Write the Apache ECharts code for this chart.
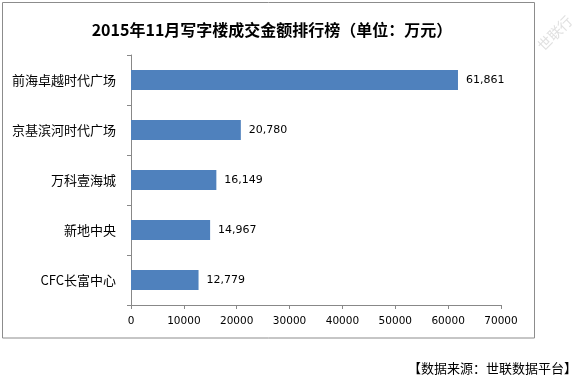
<!DOCTYPE html>
<html><head><meta charset="utf-8">
<script src="https://cdn.jsdelivr.net/npm/echarts@6/dist/echarts.min.js"></script>
<style>html,body{margin:0;padding:0;background:#fff}#c{width:578px;height:378px}</style>
</head><body><div id="c"></div>
<script>
const titleText = '2015年11月写字楼成交金额排行榜（单位：万元）';
const categories = ['前海卓越时代广场', '京基滨河时代广场', '万科壹海城', '新地中央', 'CFC长富中心'];
const values = [61861, 20780, 16149, 14967, 12779];
const xTicks = [0, 10000, 20000, 30000, 40000, 50000, 60000, 70000];
const sourceText = '【数据来源：世联数据平台】';

const chart = echarts.init(document.getElementById('c'), null, {renderer: 'canvas'});
chart.setOption({
  animation: false,
  backgroundColor: '#fff',
  title: {
    text: titleText, left: 267, top: 17, textAlign: 'center',
    textStyle: {fontFamily: 'Noto Sans CJK SC', fontSize: 16, fontWeight: 'bold', color: '#000'}
  },
  grid: {left: 131, right: 77, top: 55, bottom: 73, containLabel: false},
  xAxis: {
    type: 'value', min: xTicks[0], max: xTicks[xTicks.length - 1], interval: 10000,
    axisLine: {show: true, lineStyle: {color: '#888', width: 1}},
    axisTick: {show: true, length: 4, lineStyle: {color: '#888'}},
    splitLine: {show: false},
    axisLabel: {margin: 11, fontFamily: 'DejaVu Sans', fontSize: 10.5, color: '#000', formatter: v => String(v)}
  },
  yAxis: {
    type: 'category', data: categories, inverse: true,
    axisLine: {show: true, lineStyle: {color: '#888', width: 1}},
    axisTick: {show: true, length: 4, lineStyle: {color: '#888'}},
    axisLabel: {margin: 15, fontFamily: 'Noto Sans CJK SC', fontSize: 13, color: '#000'}
  },
  series: [{
    type: 'bar', data: values, barCategoryGap: '60%',
    itemStyle: {color: '#4F81BD'},
    label: {
      show: true, position: 'right', distance: 8,
      fontFamily: 'DejaVu Sans', fontSize: 11, color: '#000',
      formatter: p => p.value.toLocaleString('en-US')
    }
  }],
  graphic: [
    {type: 'rect', shape: {x: 2.5, y: 2.5, width: 532, height: 335.5}, style: {fill: 'none', stroke: '#8c8c8c', lineWidth: 1}, z: -1},
    {type: 'text', x: 577, y: 368, style: {text: sourceText, font: '13px "Noto Sans CJK SC"', fill: '#000', align: 'right', verticalAlign: 'middle'}},
    {type: 'text', x: 540, y: 48, rotation: Math.PI / 4, style: {text: '世联行', font: '14px "Noto Sans CJK SC"', fill: '#e0e0e0', verticalAlign: 'middle'}, z: -2}
  ]
});
</script></body></html>
